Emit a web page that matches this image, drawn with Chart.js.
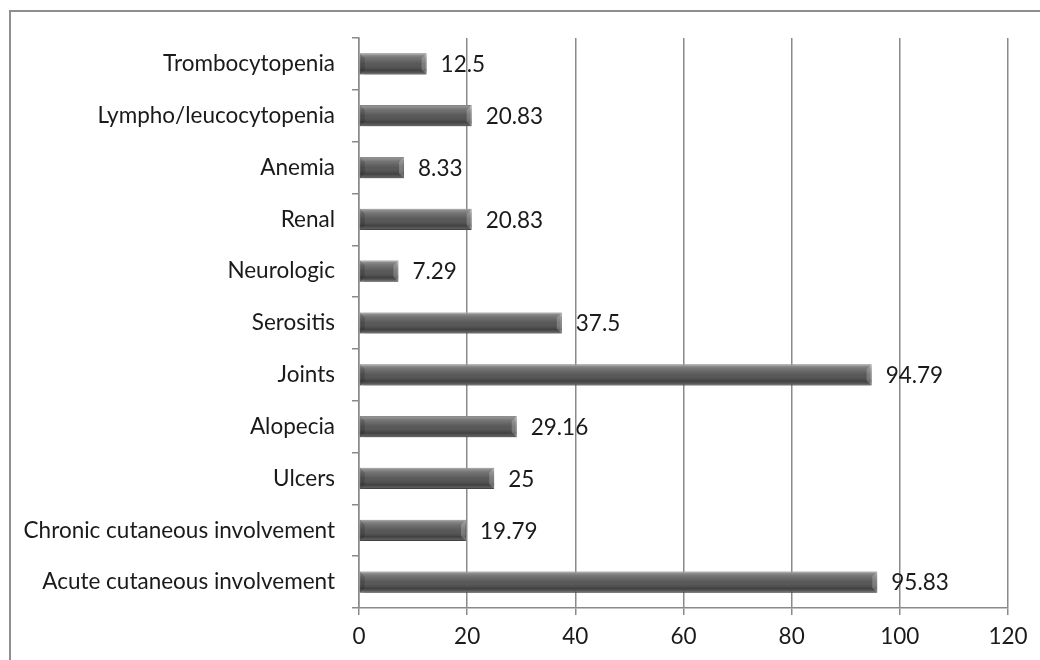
<!DOCTYPE html>
<html>
<head>
<meta charset="utf-8">
<script src="https://cdn.jsdelivr.net/npm/chart.js@4.4.1/dist/chart.umd.min.js"></script>
<style>
  html, body { margin: 0; padding: 0; background: #fff; }
  #wrap { position: relative; width: 1040px; height: 660px; overflow: hidden; }
  #frame { position: absolute; left: 9px; top: 10px; width: 1100px; height: 700px;
           border: 2px solid #8f8f8f; box-sizing: border-box; }
  canvas { position: absolute; left: 0; top: 0; }
</style>
</head>
<body>
<div id="wrap">
  <div id="frame"></div>
  <canvas id="c" width="1040" height="660"></canvas>
</div>
<script>
// Clinical manifestations, listed bottom to top as drawn on the axis
const categories = [
  'Acute cutaneous involvement',
  'Chronic cutaneous involvement',
  'Ulcers',
  'Alopecia',
  'Joints',
  'Serositis',
  'Neurologic',
  'Renal',
  'Anemia',
  'Lympho/leucocytopenia',
  'Trombocytopenia'
];
const percentages = [95.83, 19.79, 25, 29.16, 94.79, 37.5, 7.29, 20.83, 8.33, 20.83, 12.5];
const valueLabels = ['95.83', '19.79', '25', '29.16', '94.79', '37.5', '7.29', '20.83', '8.33', '20.83', '12.5'];
const xTicks = [0, 20, 40, 60, 80, 100, 120];

const FONT = 'Lato, "Open Sans", sans-serif';
const FONT_SIZE = 22.5;
const GRID = '#8a8a8a';

// Soft drop shadow under the bars, then a bevel highlight on top of each bar
const bevelBars = {
  id: 'bevelBars',
  beforeDatasetDraw(chart) {
    const ctx = chart.ctx;
    ctx.save();
    ctx.shadowColor = 'rgba(0,0,0,0.35)';
    ctx.shadowBlur = 5;
    ctx.shadowOffsetX = 1;
    ctx.shadowOffsetY = 3;
  },
  afterDatasetDraw(chart) {
    const ctx = chart.ctx;
    ctx.restore();
    const meta = chart.getDatasetMeta(0);
    ctx.save();
    meta.data.forEach(bar => {
      const { x, y, base, height } = bar.getProps(['x', 'y', 'base', 'height'], true);
      const top = y - height / 2, bot = y + height / 2;
      const g = ctx.createLinearGradient(0, top, 0, bot);
      g.addColorStop(0, 'rgba(255,255,255,0.45)');
      g.addColorStop(0.2, 'rgba(255,255,255,0.22)');
      g.addColorStop(0.5, 'rgba(255,255,255,0.05)');
      g.addColorStop(0.8, 'rgba(0,0,0,0.18)');
      g.addColorStop(1, 'rgba(255,255,255,0.12)');
      ctx.fillStyle = g;
      ctx.fillRect(base, top, x - base, height);
      // bevelled end facets
      const b = Math.min(5, (x - base) / 3);
      ctx.fillStyle = 'rgba(255,255,255,0.22)';
      ctx.beginPath();
      ctx.moveTo(x, top); ctx.lineTo(x - b, top + b); ctx.lineTo(x - b, bot - b); ctx.lineTo(x, bot);
      ctx.closePath(); ctx.fill();
      ctx.fillStyle = 'rgba(0,0,0,0.15)';
      ctx.beginPath();
      ctx.moveTo(base, top); ctx.lineTo(base + b, top + b); ctx.lineTo(base + b, bot - b); ctx.lineTo(base, bot);
      ctx.closePath(); ctx.fill();
    });
    ctx.restore();
  }
};

// Value text just past the end of each bar
const valueText = {
  id: 'valueText',
  afterDatasetsDraw(chart) {
    const ctx = chart.ctx;
    const meta = chart.getDatasetMeta(0);
    ctx.save();
    ctx.font = FONT_SIZE + 'px ' + FONT;
    ctx.fillStyle = '#1a1a1a';
    ctx.textAlign = 'left';
    ctx.textBaseline = 'middle';
    meta.data.forEach((bar, i) => {
      ctx.fillText(valueLabels[i], bar.x + 14, bar.y + 1);
    });
    ctx.restore();
  }
};

new Chart(document.getElementById('c'), {
  type: 'bar',
  data: {
    labels: categories,
    datasets: [{
      data: percentages,
      backgroundColor: '#4f4f4f',
      borderColor: '#3c3c3c',
      borderWidth: 1,
      borderSkipped: false,
      barPercentage: 0.41,
      categoryPercentage: 1.0
    }]
  },
  options: {
    indexAxis: 'y',
    responsive: false,
    animation: false,
    devicePixelRatio: 1,
    layout: { padding: { left: 0, right: 32, top: 38, bottom: 0 } },
    plugins: { legend: { display: false }, tooltip: { enabled: false } },
    scales: {
      x: {
        min: 0, max: 120,
        afterBuildTicks(scale) { scale.ticks = xTicks.map(v => ({ value: v })); },
        afterFit(scale) { scale.height = 52; },
        grid: { color: GRID, lineWidth: 1.5, tickLength: 7, drawOnChartArea: true },
        border: { color: GRID, width: 1.5 },
        ticks: { font: { family: FONT, size: FONT_SIZE }, color: '#1a1a1a', padding: 8 }
      },
      y: {
        reverse: true,
        afterFit(scale) { scale.width = 359; },
        grid: { offset: true, drawOnChartArea: false, color: GRID, lineWidth: 1.5, tickLength: 7 },
        border: { color: GRID, width: 1.5 },
        ticks: { font: { family: FONT, size: FONT_SIZE }, color: '#1a1a1a', padding: 17 }
      }
    }
  },
  plugins: [bevelBars, valueText]
});
</script>
</body>
</html>
